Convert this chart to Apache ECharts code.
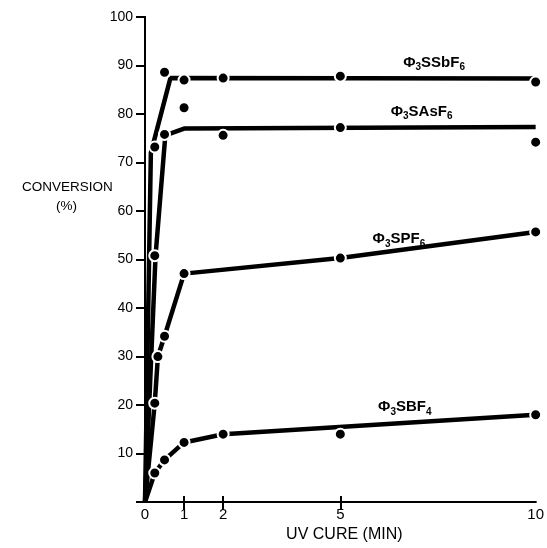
<!DOCTYPE html>
<html>
<head>
<meta charset="utf-8">
<script src="https://cdn.jsdelivr.net/npm/echarts@6/dist/echarts.min.js"></script>
<style>
  html, body { margin: 0; padding: 0; background: #fff; }
  #chart { width: 547px; height: 548px; }
</style>
</head>
<body>
<div id="chart"></div>
<script>
// measured points (time in min, conversion %)
var ssbTimes = [0.25, 0.5, 1, 2, 5, 10];
var ssbValues = [73.2, 88.6, 87, 87.4, 87.8, 86.6];
var sasTimes = [0.25, 0.5, 1, 2, 5, 10];
var sasValues = [50.8, 75.8, 81.3, 75.6, 77.2, 74.2];
var spfTimes = [0.25, 0.33, 0.5, 1, 5, 10];
var spfValues = [20.4, 30, 34.2, 47.1, 50.3, 55.7];
var sbfTimes = [0.25, 0.5, 1, 2, 5, 10];
var sbfValues = [6, 8.7, 12.3, 14, 14, 18];

// hand drawn trend curves
var ssbCurveX = [0, 0.15, 0.65, 10];
var ssbCurveY = [0, 72, 87.4, 87.3];
var sasCurveX = [0, 0.27, 0.52, 1, 10];
var sasCurveY = [0, 50.8, 75.6, 77, 77.3];
var spfCurveX = [0, 0.25, 0.33, 0.5, 1, 5, 10];
var spfCurveY = [0, 20.4, 30, 34.2, 47.1, 50.3, 55.7];
var sbfCurveX = [0, 0.25, 0.5, 1, 2, 10];
var sbfCurveY = [0, 6, 8.7, 12.3, 14, 18];

var xTickLabels = [0, 1, 2, 5, 10];
var xInnerTicks = [1, 2, 5];

var FONT = "'Liberation Sans', Arial, Helvetica, sans-serif";

function zip(xs, ys) {
    var out = [], i;
    for (i = 0; i < xs.length; i++) {
        out.push([xs[i], ys[i]]);
    }
    return out;
}

// label text: [formula parts, anchor in data coords]
var labelDefs = [
    { parts: ['SSbF', '6'], at: [7.4, 90.6] },
    { parts: ['SAsF', '6'], at: [7.08, 80.5] },
    { parts: ['SPF', '6'], at: [6.5, 54.2] },
    { parts: ['SBF', '4'], at: [6.65, 19.6] }
];

var curves = [
    zip(ssbCurveX, ssbCurveY),
    zip(sasCurveX, sasCurveY),
    zip(spfCurveX, spfCurveY),
    zip(sbfCurveX, sbfCurveY)
];
var points = [
    zip(ssbTimes, ssbValues),
    zip(sasTimes, sasValues),
    zip(spfTimes, spfValues),
    zip(sbfTimes, sbfValues)
];

var series = [], i;
for (i = 0; i < curves.length; i++) {
    series.push({
        type: 'line',
        data: curves[i],
        symbol: 'none',
        clip: false,
        z: 2,
        lineStyle: { color: '#000', width: 4.5 },
        markPoint: {
            symbol: 'circle',
            symbolSize: 1,
            itemStyle: { color: 'rgba(0,0,0,0)' },
            label: {
                show: true,
                position: 'inside',
                formatter: '{b|\u03A6}{s|3}{b|' + labelDefs[i].parts[0] + '}{s|' + labelDefs[i].parts[1] + '}',
                rich: {
                    b: { fontSize: 15, lineHeight: 20, color: '#000', fontWeight: 'bold', fontFamily: FONT },
                    s: { fontSize: 10, lineHeight: 10, color: '#000', fontWeight: 'bold', fontFamily: FONT, verticalAlign: 'bottom' }
                }
            },
            data: [{ coord: labelDefs[i].at }]
        }
    });
    series.push({
        type: 'scatter',
        data: points[i],
        symbol: 'circle',
        symbolSize: 11,
        clip: false,
        z: 5,
        itemStyle: { color: '#000', borderColor: '#fff', borderWidth: 2, opacity: 1 }
    });
}

var myChart = echarts.init(document.getElementById('chart'), null, { renderer: 'canvas' });

var option = {
    backgroundColor: '#fff',
    animation: false,
    textStyle: { fontFamily: FONT },
    grid: { left: 145, right: 10, top: 17, bottom: 40 },
    xAxis: [
        {
            type: 'value',
            min: 0,
            max: 10,
            interval: 1,
            position: 'bottom',
            name: 'UV CURE (MIN)',
            nameLocation: 'middle',
            nameGap: 23,
            nameTextStyle: { fontSize: 16, color: '#000', fontFamily: FONT, padding: [0, 0, 0, 8] },
            axisLine: { lineStyle: { color: '#000', width: 2 } },
            axisTick: { inside: true, length: 6, customValues: xInnerTicks, lineStyle: { color: '#000', width: 2 } },
            axisLabel: { customValues: xTickLabels, margin: 5, fontSize: 15, color: '#000', fontFamily: FONT },
            splitLine: { show: false }
        },
        {
            type: 'value',
            min: 0,
            max: 10,
            interval: 1,
            position: 'top',
            axisLine: { lineStyle: { color: '#000', width: 2 } },
            axisTick: { inside: true, length: 8, customValues: xInnerTicks, lineStyle: { color: '#000', width: 2 } },
            axisLabel: { show: false },
            splitLine: { show: false }
        }
    ],
    yAxis: [
        {
            type: 'value',
            min: 0,
            max: 100,
            interval: 10,
            position: 'left',
            axisLine: { lineStyle: { color: '#000', width: 2 } },
            axisTick: { inside: false, length: 7, lineStyle: { color: '#000', width: 2 } },
            axisLabel: {
                margin: 12,
                fontSize: 14,
                color: '#000',
                fontFamily: FONT,
                formatter: function (v) { return v === 0 ? '' : v; }
            },
            splitLine: { show: false }
        },
        {
            type: 'value',
            min: 0,
            max: 100,
            interval: 10,
            position: 'right',
            axisLine: { lineStyle: { color: '#000', width: 2 } },
            axisTick: { inside: true, length: 9, lineStyle: { color: '#000', width: 2 } },
            axisLabel: { show: false },
            splitLine: { show: false }
        }
    ],
    graphic: [
        {
            type: 'text',
            left: 22,
            top: 180,
            style: { text: 'CONVERSION', fontSize: 13.5, fill: '#000', fontFamily: FONT }
        },
        {
            type: 'text',
            left: 56,
            top: 199,
            style: { text: '(%)', fontSize: 13.5, fill: '#000', fontFamily: FONT }
        }
    ],
    series: series
};

myChart.setOption(option);
</script>
</body>
</html>
